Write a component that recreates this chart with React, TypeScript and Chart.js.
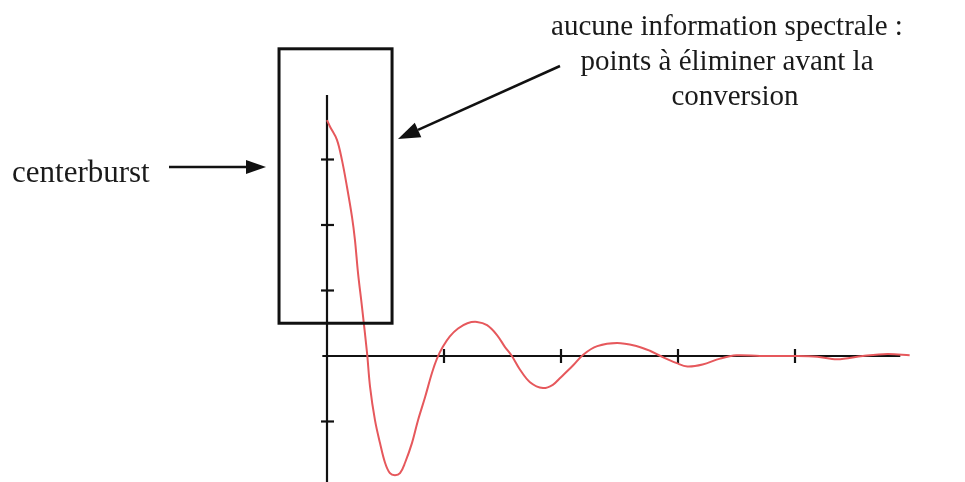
import React, { useEffect, useRef } from "react";
import { Chart, registerables } from "chart.js";

Chart.register(...registerables);

// Interferogram (centerburst + damped oscillation)
const timeX = [0, 0.026, 0.085, 0.128, 0.171, 0.214, 0.239, 0.265, 0.299, 0.342, 0.368, 0.41, 0.453, 0.496, 0.538, 0.581, 0.624, 0.667, 0.726, 0.778, 0.838, 0.897, 0.94, 0.99, 1.05, 1.12, 1.2, 1.282, 1.368, 1.453, 1.52, 1.58, 1.65, 1.735, 1.846, 1.93, 1.99, 2.1, 2.19, 2.31, 2.48, 2.65, 2.76, 2.85, 2.99, 3.08, 3.21, 3.36, 3.5, 3.7, 3.98, 4.19, 4.36, 4.58, 4.79, 4.98];
const signalY = [3.6, 3.5, 3.3, 2.99, 2.58, 2.12, 1.77, 1.27, 0.75, 0.05, -0.47, -0.98, -1.33, -1.63, -1.79, -1.82, -1.79, -1.63, -1.33, -0.98, -0.63, -0.26, -0.04, 0.14, 0.3, 0.42, 0.5, 0.52, 0.47, 0.32, 0.14, 0.0, -0.21, -0.4, -0.49, -0.44, -0.34, -0.15, 0.02, 0.15, 0.2, 0.15, 0.08, 0.0, -0.11, -0.16, -0.13, -0.04, 0.01, 0.0, 0.0, -0.01, -0.05, 0.0, 0.03, 0.01];

const xTicks = [1, 2, 3, 4];
const yTicks = [3, 2, 1, -1];

const centerburstLabel = "centerburst";
const noteLines = ["aucune information spectrale :", "points à éliminer avant la", "conversion"];

const LINE_COLOR = "#e6585c";
const FONT = "'Liberation Serif', 'Times New Roman', serif";

function drawArrow(ctx: CanvasRenderingContext2D, x1: number, y1: number, x2: number, y2: number, headLen: number, headW: number) {
  const ang = Math.atan2(y2 - y1, x2 - x1);
  const bx = x2 - headLen * Math.cos(ang);
  const by = y2 - headLen * Math.sin(ang);
  ctx.beginPath();
  ctx.moveTo(x1, y1);
  ctx.lineTo(bx, by);
  ctx.stroke();
  ctx.beginPath();
  ctx.moveTo(x2, y2);
  ctx.lineTo(bx + headW * Math.sin(ang), by - headW * Math.cos(ang));
  ctx.lineTo(bx - headW * Math.sin(ang), by + headW * Math.cos(ang));
  ctx.closePath();
  ctx.fill();
}

const axesPlugin = {
  id: "axesPlugin",
  beforeDatasetsDraw(chart: any) {
    const { ctx, scales } = chart;
    const xs = scales.x;
    const ys = scales.y;
    const x0 = xs.getPixelForValue(0);
    const y0 = ys.getPixelForValue(0);
    ctx.save();
    ctx.strokeStyle = "#111";
    ctx.lineWidth = 2.2;
    ctx.beginPath();
    ctx.moveTo(x0, ys.getPixelForValue(4) + 1);
    ctx.lineTo(x0, chart.height);
    ctx.stroke();
    ctx.beginPath();
    ctx.moveTo(xs.getPixelForValue(-0.04), y0);
    ctx.lineTo(xs.getPixelForValue(4.9), y0);
    ctx.stroke();
    for (const t of xTicks) {
      const px = xs.getPixelForValue(t);
      ctx.beginPath();
      ctx.moveTo(px, y0 - 7);
      ctx.lineTo(px, y0 + 7);
      ctx.stroke();
    }
    for (const t of yTicks) {
      const py = ys.getPixelForValue(t);
      ctx.beginPath();
      ctx.moveTo(x0 - 6, py);
      ctx.lineTo(x0 + 7, py);
      ctx.stroke();
    }
    ctx.restore();
  },
  afterDatasetsDraw(chart: any) {
    const { ctx, scales } = chart;
    const xs = scales.x;
    const ys = scales.y;
    ctx.save();
    ctx.strokeStyle = "#111";
    ctx.fillStyle = "#111";
    ctx.lineWidth = 3;
    const bl = xs.getPixelForValue(-0.41);
    const br = xs.getPixelForValue(0.556);
    const bt = ys.getPixelForValue(4.69);
    const bb = ys.getPixelForValue(0.5);
    ctx.strokeRect(bl, bt, br - bl, bb - bt);
    ctx.lineWidth = 2.5;
    drawArrow(ctx, 169, 167, 266, 167, 20, 7);
    drawArrow(ctx, 560, 66, 398, 139, 22, 8);
    ctx.restore();
  },
};

export default function App() {
  const ref = useRef<HTMLCanvasElement | null>(null);
  useEffect(() => {
    if (!ref.current) return;
    const chart = new Chart(ref.current, {
      type: "line",
      data: {
        datasets: [
          {
            data: timeX.map((x, i) => ({ x, y: signalY[i] })),
            borderColor: LINE_COLOR,
            borderWidth: 2,
            pointRadius: 0,
            tension: 0.35,
            fill: false,
            clip: false as any,
          },
        ],
      },
      options: {
        responsive: false,
        animation: false,
        events: [],
        layout: { padding: { left: 327, right: 53, top: 94, bottom: 0 } },
        plugins: { legend: { display: false }, tooltip: { enabled: false }, title: { display: false } },
        scales: {
          x: { type: "linear", min: 0, max: 5, display: false },
          y: { type: "linear", min: -1.924, max: 4, display: false },
        },
      },
      plugins: [axesPlugin],
    });
    return () => chart.destroy();
  }, []);

  const textStyle: React.CSSProperties = {
    position: "absolute",
    fontFamily: FONT,
    fontSize: 29,
    lineHeight: "29px",
    color: "#1a1a1a",
    whiteSpace: "nowrap",
    textAlign: "center",
    width: 500,
  };

  return (
    <div style={{ position: "absolute", left: 0, top: 0, width: 965, height: 482, background: "#fff", overflow: "hidden" }}>
      <canvas ref={ref} width={965} height={482} style={{ position: "absolute", left: 0, top: 0 }} />
      <div style={{ ...textStyle, textAlign: "left", width: "auto", left: 12, top: 182 - 26, fontSize: 31, lineHeight: "31px" }}>{centerburstLabel}</div>
      <div style={{ ...textStyle, left: 727 - 250, top: 35 - 24 }}>{noteLines[0]}</div>
      <div style={{ ...textStyle, left: 727 - 250, top: 70 - 24 }}>{noteLines[1]}</div>
      <div style={{ ...textStyle, left: 735 - 250, top: 105 - 24 }}>{noteLines[2]}</div>
    </div>
  );
}
